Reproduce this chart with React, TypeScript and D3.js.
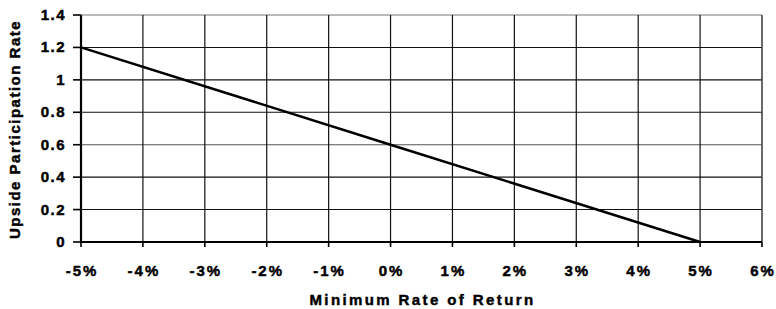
import React from "react";
import * as d3 from "d3";

const xTicks = [-5, -4, -3, -2, -1, 0, 1, 2, 3, 4, 5, 6];
const yTicks = [0, 0.2, 0.4, 0.6, 0.8, 1, 1.2, 1.4];
const yTickLabels = ["0", "0.2", "0.4", "0.6", "0.8", "1", "1.2", "1.4"];
const minRate = [-5, 0, 5];
const participation = [1.2, 0.6, 0];
const xTitle = "Minimum Rate of Return";
const yTitle = "Upside Participation Rate";

export default function App() {
  const W = 776, H = 309;
  const left = 81, right = 762, top = 15, bottom = 242;
  const x = d3.scaleLinear().domain([-5, 6]).range([left, right]);
  const y = d3.scaleLinear().domain([0, 1.4]).range([bottom, top]);
  const line = d3.line<number>().x((_, i) => x(minRate[i])).y((d) => y(d));
  const txt: React.CSSProperties = {
    fontFamily: "Arial, 'Liberation Sans', Helvetica, sans-serif",
    fontWeight: 700,
    stroke: "#000",
    strokeWidth: 0.45,
  };
  return (
    <svg width={W} height={H} style={{ position: "absolute", left: 0, top: 0, background: "#fff" }}>
      <rect x={0} y={0} width={W} height={H} fill="#fff" />
      {yTicks.map((t, i) => (
        <line key={"gy" + i} x1={left} x2={right} y1={y(t)} y2={y(t)}
          stroke={t === 1.4 ? "#777" : t === 0.6 ? "#555" : "#111"} strokeWidth={1.1} />
      ))}
      {xTicks.map((t, i) => (
        <line key={"gx" + i} x1={x(t)} x2={x(t)} y1={top} y2={bottom}
          stroke={t === 6 ? "#444" : "#111"} strokeWidth={t === 6 ? 1.6 : 1.2} />
      ))}
      <line x1={left} x2={left} y1={top} y2={bottom + 1} stroke="#000" strokeWidth={2.2} />
      <line x1={left - 1} x2={right} y1={bottom} y2={bottom} stroke="#000" strokeWidth={2.2} />
      {yTicks.map((t, i) => (
        <line key={"ty" + i} x1={left - 8} x2={left} y1={y(t)} y2={y(t)} stroke="#000" strokeWidth={1.6} />
      ))}
      {xTicks.map((t, i) => (
        <line key={"tx" + i} x1={x(t)} x2={x(t)} y1={bottom} y2={bottom + 5} stroke="#000" strokeWidth={1.6} />
      ))}
      <path d={line(participation) || ""} fill="none" stroke="#000" strokeWidth={2.5} />
      {yTicks.map((t, i) => (
        <text key={"ly" + i} x={left - 15} y={y(t) + 5} textAnchor="end" style={txt}
          fontSize={15} letterSpacing={1.5} fill="#000">{yTickLabels[i]}</text>
      ))}
      {xTicks.map((t, i) => (
        <text key={"lx" + i} x={x(t) + 1} y={276} textAnchor="middle" style={txt}
          fontSize={15} letterSpacing={2} fill="#000">{t + "%"}</text>
      ))}
      <text x={(left + right) / 2 + 1} y={305} textAnchor="middle" style={txt}
        fontSize={15} letterSpacing={2.4} fill="#000">{xTitle}</text>
      <text transform={`translate(20, ${(top + bottom) / 2 + 1}) rotate(-90)`} textAnchor="middle"
        style={txt} fontSize={15} letterSpacing={1.5} fill="#000">{yTitle}</text>
    </svg>
  );
}
